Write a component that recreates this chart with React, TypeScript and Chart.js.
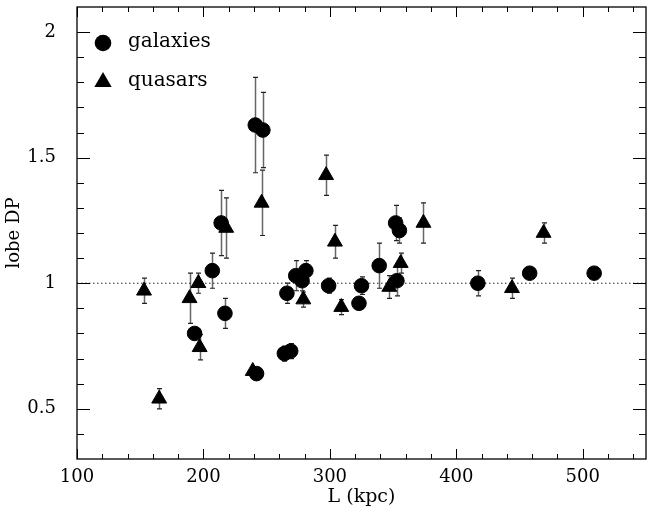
import React, { useEffect, useRef } from "react";
import { Chart, registerables } from "chart.js";

Chart.register(...registerables);

// Galaxies: L (kpc), lobe DP, error
const galL = [193, 214, 207, 217, 241, 247, 242, 264, 269, 266, 273, 278, 281, 299, 325, 323, 339, 352, 355, 353, 417, 458, 509];
const galDP = [0.80, 1.24, 1.05, 0.88, 1.63, 1.61, 0.64, 0.72, 0.73, 0.96, 1.03, 1.01, 1.05, 0.99, 0.99, 0.92, 1.07, 1.24, 1.21, 1.01, 1.00, 1.04, 1.04];
const galErr = [0, 0.13, 0.07, 0.06, 0.19, 0.15, 0, 0.03, 0.03, 0.04, 0.06, 0.04, 0.04, 0.03, 0.035, 0, 0.09, 0.07, 0.05, 0.06, 0.05, 0, 0];

// Quasars
const qsoL = [153, 165, 189, 196, 197, 218, 239, 246, 279, 297, 304, 309, 347, 356, 374, 444, 469];
const qsoDP = [0.97, 0.54, 0.94, 1.00, 0.745, 1.22, 0.65, 1.32, 0.935, 1.43, 1.165, 0.905, 0.985, 1.08, 1.24, 0.98, 1.20];
const qsoErr = [0.05, 0.04, 0.10, 0.04, 0.05, 0.12, 0, 0.13, 0.03, 0.08, 0.065, 0.03, 0.045, 0.04, 0.08, 0.04, 0.04];

// axes
const xRange = [100, 550];
const yRange = [0.3, 2.1];
const xTickLabels = [100, 200, 300, 400, 500];
const xMinorTicks = [120, 140, 160, 180, 220, 240, 260, 280, 320, 340, 360, 380, 420, 440, 460, 480, 520, 540];
const yTickLabels = [0.5, 1, 1.5, 2];
const yMinorTicks = [0.4, 0.6, 0.7, 0.8, 0.9, 1.1, 1.2, 1.3, 1.4, 1.6, 1.7, 1.8, 1.9];
const refLevel = 1;

const seriesNames = ["galaxies", "quasars"];
const xTitle = "L (kpc)";
const yTitle = "lobe DP";

const FONT = "'DejaVu Serif', serif";

const framePlugin = {
  id: "frameTicks",
  beforeDatasetsDraw(chart: any) {
    const { ctx, scales } = chart;
    const xs = scales.x;
    const ys = scales.y;
    ctx.save();
    const drawErr = (xv: number[], yv: number[], ev: number[]) => {
      for (let i = 0; i < xv.length; i++) {
        if (!ev[i]) continue;
        const px = Math.round(xs.getPixelForValue(xv[i])) + 0.5;
        const top = ys.getPixelForValue(yv[i] + ev[i]);
        const bot = ys.getPixelForValue(yv[i] - ev[i]);
        ctx.strokeStyle = "#666";
        ctx.lineWidth = 1.5;
        ctx.beginPath();
        ctx.moveTo(px, top);
        ctx.lineTo(px, bot);
        ctx.stroke();
        ctx.strokeStyle = "#222";
        ctx.lineWidth = 1.2;
        ctx.beginPath();
        ctx.moveTo(px - 2.5, top);
        ctx.lineTo(px + 2.5, top);
        ctx.moveTo(px - 2.5, bot);
        ctx.lineTo(px + 2.5, bot);
        ctx.stroke();
      }
    };
    drawErr(galL, galDP, galErr);
    drawErr(qsoL, qsoDP, qsoErr);
    ctx.restore();
  },
  afterDraw(chart: any) {
    const { ctx, chartArea: ca, scales } = chart;
    const xs = scales.x;
    const ys = scales.y;
    ctx.save();
    ctx.strokeStyle = "#000";
    ctx.lineWidth = 1.3;
    ctx.strokeRect(ca.left, ca.top, ca.right - ca.left, ca.bottom - ca.top);
    ctx.lineWidth = 1;
    ctx.beginPath();
    const xt = (v: number, len: number) => {
      const px = Math.round(xs.getPixelForValue(v)) + 0.5;
      ctx.moveTo(px, ca.bottom);
      ctx.lineTo(px, ca.bottom - len);
      ctx.moveTo(px, ca.top);
      ctx.lineTo(px, ca.top + len);
    };
    const yt = (v: number, len: number) => {
      const py = Math.round(ys.getPixelForValue(v)) + 0.5;
      ctx.moveTo(ca.left, py);
      ctx.lineTo(ca.left + len, py);
      ctx.moveTo(ca.right, py);
      ctx.lineTo(ca.right - len, py);
    };
    xTickLabels.forEach((v) => xt(v, 10));
    xMinorTicks.forEach((v) => xt(v, 5));
    yTickLabels.forEach((v) => yt(v, 13));
    yMinorTicks.forEach((v) => yt(v, 7));
    ctx.stroke();

    // legend
    const lx = ca.left + 26;
    const ly1 = ca.top + 36;
    const ly2 = ca.top + 75;
    ctx.fillStyle = "#000";
    ctx.beginPath();
    ctx.arc(lx, ly1, 8.3, 0, Math.PI * 2);
    ctx.fill();
    const r = 10;
    ctx.beginPath();
    ctx.moveTo(lx, ly2 - r);
    ctx.lineTo(lx + r * 0.866, ly2 + r * 0.5);
    ctx.lineTo(lx - r * 0.866, ly2 + r * 0.5);
    ctx.closePath();
    ctx.fill();
    ctx.font = "20px " + FONT;
    ctx.textBaseline = "middle";
    ctx.textAlign = "left";
    ctx.fillText(seriesNames[0], lx + 25, ly1 - 1);
    ctx.fillText(seriesNames[1], lx + 25, ly2 - 1);
    ctx.restore();
  },
};

export default function App() {
  const ref = useRef<HTMLCanvasElement>(null);
  useEffect(() => {
    if (!ref.current) return;
    const chart = new Chart(ref.current, {
      type: "scatter",
      data: {
        datasets: [
          {
            label: "ref",
            type: "line",
            data: [
              { x: xRange[0], y: refLevel },
              { x: xRange[1], y: refLevel },
            ],
            borderColor: "#222",
            borderWidth: 1,
            borderDash: [1.5, 2.5],
            pointRadius: 0,
            order: 3,
          } as any,
          {
            label: seriesNames[1],
            data: qsoL.map((x, i) => ({ x, y: qsoDP[i] })),
            pointStyle: "triangle",
            pointRadius: 8.6,
            backgroundColor: "#000",
            borderColor: "#000",
            borderWidth: 1,
            order: 2,
          },
          {
            label: seriesNames[0],
            data: galL.map((x, i) => ({ x, y: galDP[i] })),
            pointStyle: "circle",
            pointRadius: 7.3,
            backgroundColor: "#000",
            borderColor: "#000",
            borderWidth: 1,
            order: 1,
          },
        ],
      },
      options: {
        responsive: false,
        animation: false,
        events: [],
        layout: { autoPadding: false, padding: { top: 7, right: 1, left: 0, bottom: 0 } },
        plugins: { legend: { display: false }, tooltip: { enabled: false } },
        scales: {
          x: {
            type: "linear",
            min: xRange[0],
            max: xRange[1],
            grid: { display: false },
            border: { display: false },
            afterBuildTicks: (s: any) => {
              s.ticks = xTickLabels.map((v) => ({ value: v }));
            },
            afterFit: (s: any) => {
              s.height = 59;
              s.paddingLeft = 0;
              s.paddingRight = 0;
            },
            ticks: {
              color: "#000",
              padding: 0,
              maxRotation: 0,
              autoSkip: false,
              font: { family: FONT, size: 18 },
              callback: (v: any) => String(v),
            },
            title: {
              display: true,
              text: xTitle,
              color: "#000",
              font: { family: FONT, size: 19 },
              padding: { top: 0, bottom: 10 },
            },
          },
          y: {
            type: "linear",
            min: yRange[0],
            max: yRange[1],
            grid: { display: false },
            border: { display: false },
            afterBuildTicks: (s: any) => {
              s.ticks = yTickLabels.map((v) => ({ value: v }));
            },
            afterFit: (s: any) => {
              s.width = 77;
              s.paddingTop = 0;
              s.paddingBottom = 0;
            },
            ticks: {
              color: "#000",
              padding: 13,
              autoSkip: false,
              font: { family: FONT, size: 18 },
              callback: (v: any) => String(v),
            },
            title: {
              display: true,
              text: yTitle,
              color: "#000",
              font: { family: FONT, size: 18 },
              padding: { top: 4, bottom: 0 },
            },
          },
        },
      },
      plugins: [framePlugin],
    });
    return () => chart.destroy();
  }, []);
  return (
    <div style={{ position: "absolute", left: 0, top: 0, width: 647, height: 518, background: "#fff" }}>
      <canvas ref={ref} width={647} height={518} />
    </div>
  );
}
